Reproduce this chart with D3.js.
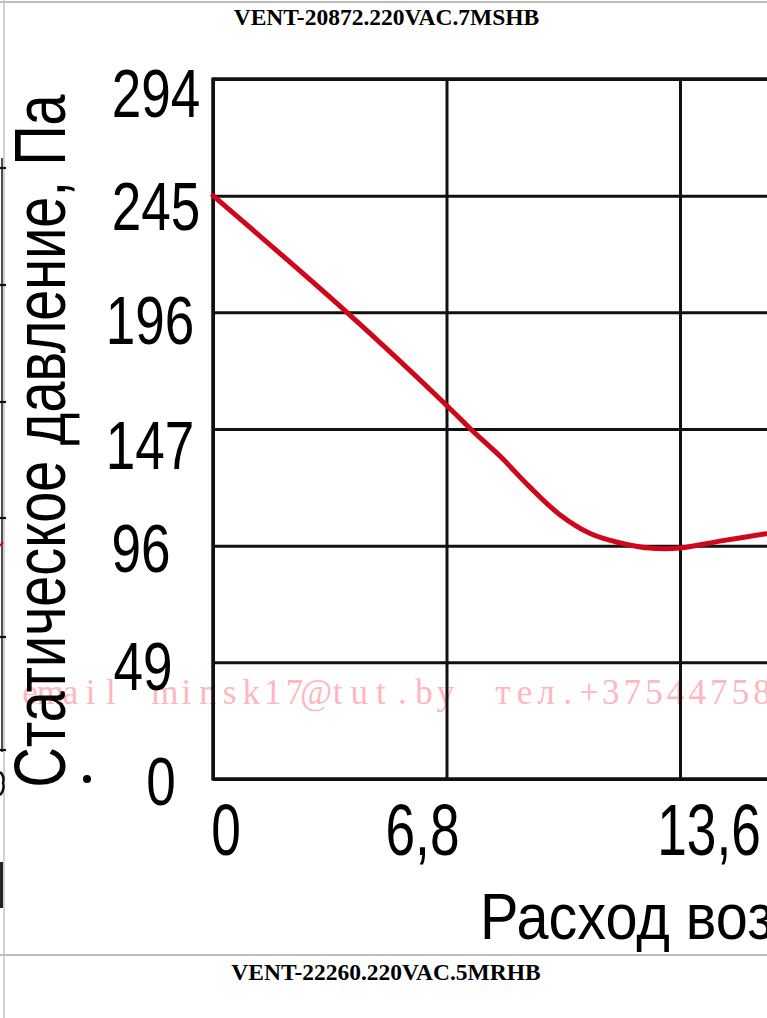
<!DOCTYPE html>
<html>
<head>
<meta charset="utf-8">
<script src="https://cdn.jsdelivr.net/npm/d3@7/dist/d3.min.js"></script>
<style>
  html, body { margin: 0; padding: 0; background: #fff; overflow: hidden; }
  svg { display: block; }
</style>
</head>
<body>
<svg id="chart" width="767" height="1018"></svg>
<script>
// ---- data ----
const titleTop = "VENT-20872.220VAC.7MSHB";
const titleNext = "VENT-22260.220VAC.5MRHB";
const yTitle = "Статическое давление, Па";
const xTitle = "Расход воздуха, м³/ч";
const watermarkParts = ["email", "minsk17@tut.by", "тел.+375447584"];

const xTickValues = [0, 6.8, 13.6];
const xTickLabels = ["0", "6,8", "13,6"];
const yTickValues = [0, 49, 98, 147, 196, 245, 294];
const yTickLabels = ["0", "49", "96", "147", "196", "245", "294"];

// curve (x in axis units, y in Pa)
const flowX = [0, 3.9, 6.8, 7.5, 8.4, 9.2, 10.1, 11.0, 11.9, 12.7, 13.6, 14.8, 16.1];
const pressY = [245, 196, 157, 147, 135, 123, 111, 103, 99, 97, 97, 100, 103];

// ---- layout ----
const W = 767, H = 1018;
const svg = d3.select("#chart");
const plotLeft = 213, plotTop = 79, plotBottom = 779;
// hand placement of the labels in the original artwork
const xLabelDx = [13, -24, 29];
const yLabelDx = [8, -10, -12, -3, -3, 3, 3];
const yLabelDy = [-6, -4, -6, 8, 0, 2, 6];
const watermarkStart = [20, 154, 492];
const watermarkPitch = [20.2, 21.6, 21.6];

const x = d3.scaleLinear().domain([0, 13.6]).range([plotLeft, 680]);
const y = d3.scaleLinear().domain([0, 294]).range([plotBottom, plotTop]);

// page frame (table borders)
svg.append("line").attr("x1", 0).attr("x2", W).attr("y1", 2).attr("y2", 2)
  .attr("stroke", "#bdbdbd").attr("stroke-width", 2);
svg.append("line").attr("x1", 4).attr("x2", 4).attr("y1", 0).attr("y2", H)
  .attr("stroke", "#c4c4c4").attr("stroke-width", 1.5);
svg.append("line").attr("x1", 0).attr("x2", W).attr("y1", 955).attr("y2", 955)
  .attr("stroke", "#bdbdbd").attr("stroke-width", 2);

// remnants of the neighbouring picture at the very left edge
const edge = svg.append("g").attr("class", "edge-remnant");
edge.append("line").attr("x1", 2).attr("x2", 2).attr("y1", 158).attr("y2", 752)
  .attr("stroke", "#222").attr("stroke-width", 1.6);
[168, 285, 402, 518, 637, 750].forEach(v => {
  edge.append("line").attr("x1", 0).attr("x2", 6).attr("y1", v).attr("y2", v)
    .attr("stroke", "#111").attr("stroke-width", 2.2);
});
edge.append("path").attr("d", "M0,772 Q5,776 3,783 Q5,790 0,795")
  .attr("fill", "none").attr("stroke", "#111").attr("stroke-width", 2.5);
edge.append("rect").attr("x", 0).attr("y", 862).attr("width", 3).attr("height", 46).attr("fill", "#222");
edge.append("line").attr("x1", 0).attr("x2", 3).attr("y1", 546).attr("y2", 542)
  .attr("stroke", "#d0061a").attr("stroke-width", 2);

// titles
svg.append("text").attr("x", 386.5).attr("y", 25)
  .attr("text-anchor", "middle")
  .attr("font-family", "'Liberation Serif', 'Times New Roman', serif")
  .attr("font-weight", "bold").attr("font-size", 23.5)
  .attr("fill", "#000").text(titleTop);
svg.append("text").attr("x", 386).attr("y", 980)
  .attr("text-anchor", "middle")
  .attr("font-family", "'Liberation Serif', 'Times New Roman', serif")
  .attr("font-weight", "bold").attr("font-size", 23.5)
  .attr("fill", "#000").text(titleNext);

// chart group clipped to the page area
svg.append("clipPath").attr("id", "pageclip")
  .append("rect").attr("x", 0).attr("y", 0).attr("width", W).attr("height", 952);
const g = svg.append("g").attr("clip-path", "url(#pageclip)");

// watermark: light serif on a fixed pitch (typewriter look)
const wm = g.append("g").attr("class", "watermark");
watermarkParts.forEach((t, i) => {
  const pitch = watermarkPitch[i];
  const xs = Array.from(t).map((c, k) => (watermarkStart[i] + (k + 0.5) * pitch).toFixed(1));
  wm.append("text")
    .attr("y", 704)
    .attr("font-family", "'Liberation Serif', 'Times New Roman', serif")
    .attr("font-size", 35)
    .attr("fill", "#ffb6be")
    .attr("text-anchor", "middle")
    .selectAll("tspan").data(Array.from(t)).join("tspan")
      .attr("x", (c, k) => xs[k])
      .text(c => c);
});

// grid: horizontal lines (via axis ticks)
const gridStroke = "#111";
g.append("g").attr("class", "ygrid")
  .attr("transform", `translate(${plotLeft},0)`)
  .call(d3.axisRight(y).tickValues(yTickValues).tickSize(W - plotLeft + 10).tickFormat(""))
  .call(s => s.select(".domain").remove())
  .call(s => s.selectAll("line").attr("stroke", gridStroke).attr("stroke-width", 3));

// grid: vertical lines
g.append("g").attr("class", "xgrid")
  .attr("transform", `translate(0,${plotBottom})`)
  .call(d3.axisTop(x).tickValues(xTickValues).tickSize(plotBottom - plotTop).tickFormat(""))
  .call(s => s.select(".domain").remove())
  .call(s => s.selectAll("line").attr("stroke", gridStroke).attr("stroke-width", 3));

// frame lines of the plot (left, top, bottom)
g.append("line").attr("x1", plotLeft).attr("x2", plotLeft).attr("y1", plotTop - 1.5).attr("y2", plotBottom + 1.5)
  .attr("stroke", gridStroke).attr("stroke-width", 3.5);
g.append("line").attr("x1", plotLeft).attr("x2", W + 5).attr("y1", y(294)).attr("y2", y(294))
  .attr("stroke", gridStroke).attr("stroke-width", 3.5);
g.append("line").attr("x1", plotLeft).attr("x2", W + 5).attr("y1", y(0)).attr("y2", y(0))
  .attr("stroke", gridStroke).attr("stroke-width", 3.5);

// y tick labels
const tickFont = "'Liberation Sans', Arial, sans-serif";
g.append("g").selectAll("text").data(yTickValues).join("text")
  .attr("transform", (d, i) => `translate(${153 + yLabelDx[i]},${y(d) + 32 + yLabelDy[i]}) scale(0.78,1)`)
  .attr("text-anchor", "middle")
  .attr("font-family", tickFont).attr("font-size", 68).attr("fill", "#000")
  .text((d, i) => yTickLabels[i]);

// x tick labels
g.append("g").selectAll("text").data(xTickValues).join("text")
  .attr("transform", (d, i) => `translate(${x(d) + xLabelDx[i]},855) scale(0.74,1)`)
  .attr("text-anchor", "middle")
  .attr("font-family", tickFont).attr("font-size", 72).attr("fill", "#000")
  .text((d, i) => xTickLabels[i]);

// axis titles
g.append("text")
  .attr("transform", "translate(65,441) rotate(-90) scale(0.775,1)")
  .attr("text-anchor", "middle")
  .attr("font-family", tickFont).attr("font-size", 72).attr("fill", "#000")
  .text(yTitle);
g.append("text")
  .attr("transform", "translate(480,939) scale(0.9,1)")
  .attr("font-family", tickFont).attr("font-size", 64).attr("fill", "#000")
  .text(xTitle);

// stray dot next to the axis title
g.append("circle").attr("cx", 87).attr("cy", 779).attr("r", 4).attr("fill", "#000");

// curve
const pts = flowX.map((v, i) => [v, pressY[i]]);
const line = d3.line().x(d => x(d[0])).y(d => y(d[1])).curve(d3.curveCatmullRom.alpha(0.5));
g.append("path").datum(pts)
  .attr("d", line)
  .attr("fill", "none")
  .attr("stroke", "#d0061a")
  .attr("stroke-width", 5)
  .attr("stroke-linejoin", "round")
  .attr("stroke-linecap", "round");
</script>
</body>
</html>
